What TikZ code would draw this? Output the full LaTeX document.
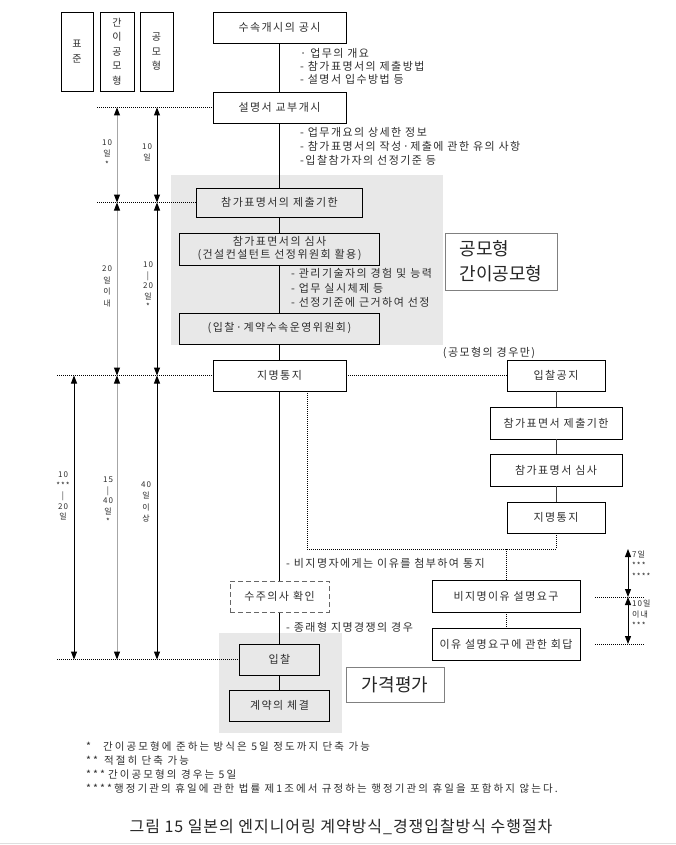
\documentclass[tikz,border=0pt]{standalone}
\usepackage{fontspec}
\setmainfont[LetterSpace=13]{Noto Sans CJK KR}
\newfontfamily\footfont[LetterSpace=20]{Noto Sans CJK KR}
\newfontfamily\capfont[LetterSpace=6]{Noto Sans CJK KR}
\newfontfamily\plainfont{Noto Sans CJK KR}
\usetikzlibrary{arrows.meta}
\definecolor{txt}{gray}{0.18}
\definecolor{panelgray}{gray}{0.91}
\newcommand{\fs}[2]{\fontsize{#1}{#2}\selectfont}

\begin{document}
\begin{tikzpicture}[x=1pt,y=-1pt,
    box/.style={draw,line width=0.8pt,fill=white,minimum height=31pt,inner sep=1pt,font=\fs{11}{13.5},text=txt},
    hbox/.style={draw,line width=0.8pt,minimum width=33pt,minimum height=79pt,inner sep=0pt,font=\fs{10}{14.5},align=center,text=txt},
    note/.style={anchor=west,inner sep=0pt,font=\fs{11}{13},text=txt},
    foot/.style={anchor=west,inner sep=0pt,font=\footfont\fs{10.5}{12},text=txt},
    day/.style={align=center,inner sep=0pt,font=\fs{8}{11},text=txt},
    big/.style={draw=gray,line width=1pt,fill=white,font=\plainfont\fs{18}{25},text=black!85},
    guide/.style={line width=0.6pt,dash pattern=on 1pt off 1pt},
    link/.style={line width=0.8pt},
    span/.style={line width=1pt,<->,>={Triangle[width=6pt,length=8pt,color=black]}},
  ]
  \fill[white] (0,0) rectangle (676,845);
  \useasboundingbox (0,0) rectangle (676,845);
  \fill[panelgray] (171,175) rectangle (443,345);
  \fill[panelgray] (219,633) rectangle (342,733);

  \node[hbox,minimum width=32pt] (std) at (77,51.5) {표\\준};
  \node[hbox,minimum width=34pt] (kan) at (117,51.5) {간\\이\\공\\모\\형};
  \node[hbox] (gong) at (156.5,51.5) {공\\모\\형};

  \node[box,minimum width=133pt] (notice) at (279.5,27.5) {수속개시의 공시};
  \node[box,minimum width=133pt] (issue) at (279.5,107.5) {설명서 교부개시};
  \node[box,fill=panelgray,minimum width=166pt,minimum height=29pt] (deadline) at (279.5,202.5) {참가표명서의 제출기한};
  \node[box,fill=panelgray,minimum width=200pt,minimum height=32pt,align=center,font=\fs{11}{13}] (review) at (279.5,249) {참가표면서의 심사\\(건설컨설턴트 선정위원회 활용)};
  \node[box,fill=panelgray,minimum width=200pt] (committee) at (279.5,328.5) {(입찰·계약수속운영위원회)};
  \node[box,minimum width=133pt] (nominate) at (279.5,375.5) {지명통지};
  \node[box,draw=gray!80!black,dash pattern=on 5pt off 3pt,line width=1pt,minimum width=99pt] (intent) at (279.5,596.5) {수주의사 확인};
  \node[box,fill=panelgray,minimum width=80pt] (bid) at (279.5,659.5) {입찰};
  \node[box,fill=panelgray,minimum width=100pt] (contract) at (279.5,705.5) {계약의 체결};

  \node[box,minimum width=98pt] (call) at (556,375.5) {입찰공지};
  \node[box,minimum width=132pt,minimum height=32pt] (rdead) at (556,423) {참가표면서 제출기한};
  \node[box,minimum width=132pt,minimum height=32pt] (rrev) at (556,470) {참가표명서 심사};
  \node[box,minimum width=98pt] (rnom) at (556,517.5) {지명통지};
  \node[box,minimum width=148pt,minimum height=32pt] (ask) at (506,596) {비지명이유 설명요구};
  \node[box,minimum width=148pt,minimum height=32pt] (reply) at (506,644) {이유 설명요구에 관한 회답};

  \node[big,minimum width=112pt,minimum height=57pt,align=left] (types) at (501,261.5) {공모형\\간이공모형};
  \node[big,minimum width=98pt,minimum height=35pt] (price) at (395,684.5) {가격평가};

  \node[note] (n1) at (300,53) {· 업무의 개요};
  \node[note] (n2) at (300,66) {- 참가표명서의 제출방법};
  \node[note] (n3) at (300,79) {- 설명서 입수방법 등};
  \node[note] (n4) at (300,132) {- 업무개요의 상세한 정보};
  \node[note] (n5) at (300,146) {- 참가표명서의 작성·제출에 관한 유의 사항};
  \node[note] (n6) at (300,160) {-입찰참가자의 선정기준 등};
  \node[note] (n7) at (291,273) {- 관리기술자의 경험 및 능력};
  \node[note] (n8) at (291,288) {- 업무 실시체제 등};
  \node[note] (n9) at (291,302) {- 선정기준에 근거하여 선정};
  \node[note,anchor=center] (only) at (489,353) {(공모형의 경우만)};
  \node[note] (n10) at (286,563) {- 비지명자에게는 이유를 첨부하여 통지};
  \node[note] (n11) at (286,627) {- 종래형 지명경쟁의 경우};

  \draw[link] (notice) -- (issue) -- (deadline) -- (review) -- (committee) -- (nominate) -- (intent) -- (bid) -- (contract);
  \draw[link,black!75] (call) -- (rdead) -- (rrev) -- (rnom);

  \coordinate (turn) at (307,549);
  \draw[guide] (nominate) -- (call);
  \draw[guide] (rnom) -- (rnom |- turn) -- (turn) -- (turn |- nominate.south);
  \draw[guide] (ask.north |- turn) -- (ask);
  \draw[guide] (ask) -- (reply);

  \coordinate (ga) at (97,0);
  \coordinate (gb) at (57,0);
  \draw[guide] (ga |- issue) -- (issue);
  \draw[guide] (ga |- deadline) -- (deadline);
  \draw[guide] (gb |- nominate) -- (nominate);
  \draw[guide] (gb |- bid) -- (bid);

  \coordinate (cs) at (74,0);
  \coordinate (ck) at (117,0);
  \coordinate (cg) at (157,0);
  \draw[span,draw=gray!70] (ck |- issue) -- (ck |- deadline);
  \draw[span,draw=gray!70] (ck |- deadline) -- (ck |- nominate);
  \draw[span,draw=gray!70] (ck |- nominate) -- (ck |- bid);
  \draw[span] (cg |- issue) -- (cg |- deadline);
  \draw[span] (cg |- deadline) -- (cg |- nominate);
  \draw[span] (cg |- nominate) -- (cg |- bid);
  \draw[span] (cs |- nominate) -- (cs |- bid);

  \node[day] (k1) at (107,153.5) {10\\일\\*};
  \node[day] (g1) at (147,152.5) {10\\일};
  \node[day,font=\fs{8}{11.7}] (k2) at (107,286.5) {20\\일\\이\\내};
  \node[day,font=\fs{8}{10.5}] (g2) at (148,286) {10\\|\\20\\일\\*};
  \node[day,font=\fs{8}{10.5}] (s3) at (63,496) {10\\***\\|\\20\\일};
  \node[day,font=\fs{8}{10.5}] (k3) at (108,501) {15\\|\\40\\일\\*};
  \node[day,font=\fs{8}{11.5}] (g3) at (146,502) {40\\일\\이\\상};

  \coordinate (e0) at (628,549);
  \coordinate (e1) at (628,597);
  \coordinate (e2) at (628,644);
  \draw[span] (e0) -- (e1);
  \draw[span] (e1) -- (e2);
  \draw[guide] ([xshift=-33pt]e1) -- ([xshift=17pt]e1);
  \draw[guide] ([xshift=-33pt]e2) -- ([xshift=17pt]e2);
  \node[day,anchor=north west,align=left] (r1) at (632,551) {7일\\***\\****};
  \node[day,anchor=north west,align=left] (r2) at (632,600) {10일\\이내\\***};

  \node[foot] (f1) at (86,747) {*\hspace{12pt}간이공모형에 준하는 방식은 5일 정도까지 단축 가능};
  \node[foot] (f2) at (86,761) {**\hspace{6pt}적절히 단축 가능};
  \node[foot] (f3) at (86,775) {***\hspace{3pt}간이공모형의 경우는 5일};
  \node[foot] (f4) at (86,789) {****\hspace{2pt}행정기관의 휴일에 관한 법률 제1조에서 규정하는 행정기관의 휴일을 포함하지 않는다.};
  \node[font=\capfont\fs{16}{18},text=black!85] (cap) at (341,827) {그림 15 일본의 엔지니어링 계약방식\_경쟁입찰방식 수행절차};
  \draw[gray!25,line width=1.5pt] (0,843.5) -- (676,843.5);
\end{tikzpicture}
\end{document}
